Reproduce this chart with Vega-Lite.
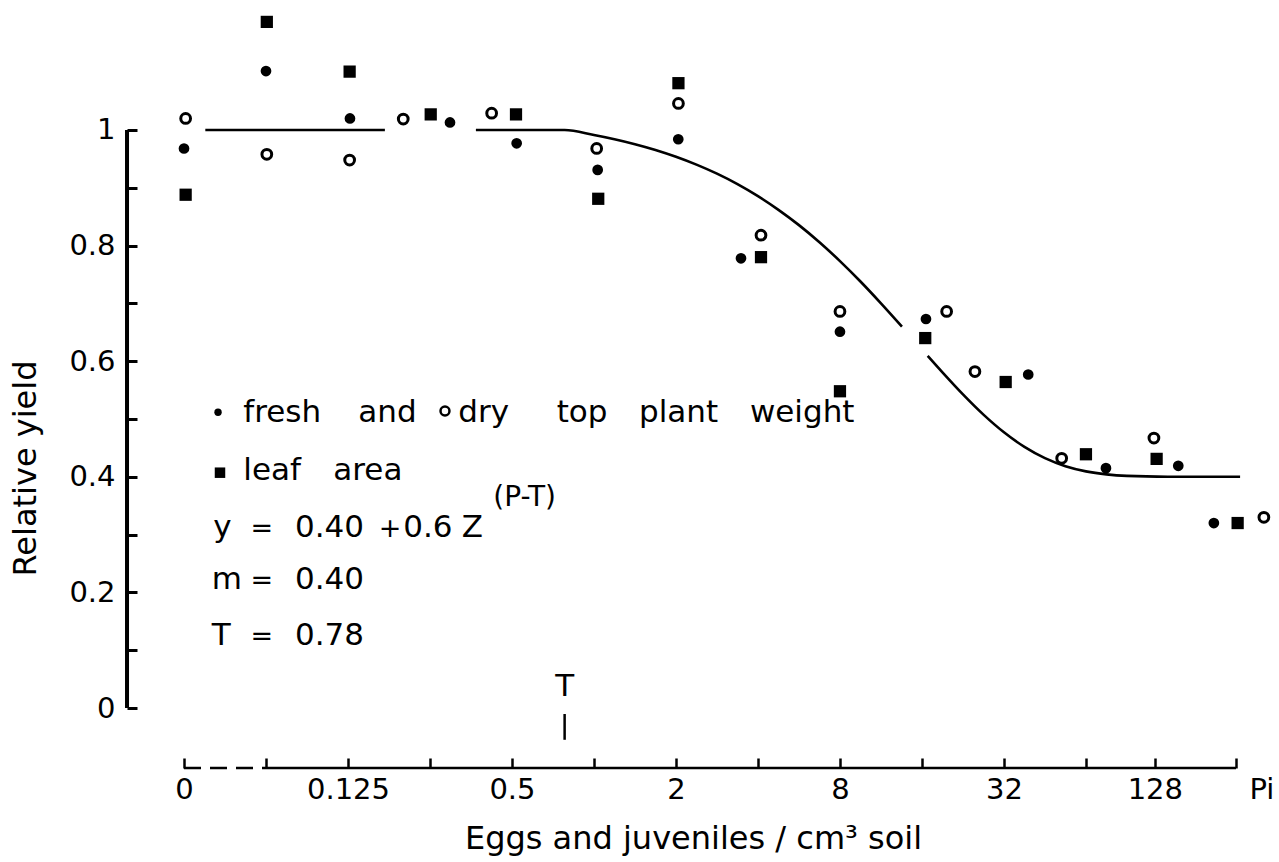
{
  "$schema": "https://vega.github.io/schema/vega-lite/v6.json",
  "width": 1052,
  "height": 768,
  "autosize": {"type": "none"},
  "padding": {"left": 184, "top": 0, "right": 43, "bottom": 94},
  "background": "white",
  "config": {"view": {"stroke": null}, "font": "DejaVu Sans", "text": {"color": "black"}},
  "datasets": {
    "points": [
      {"pos": -5.0, "yield": 0.968, "measure": "fresh"},
      {"pos": -4.0, "yield": 1.102, "measure": "fresh"},
      {"pos": -2.976, "yield": 1.02, "measure": "fresh"},
      {"pos": -1.756, "yield": 1.013, "measure": "fresh"},
      {"pos": -0.943, "yield": 0.977, "measure": "fresh"},
      {"pos": 0.045, "yield": 0.931, "measure": "fresh"},
      {"pos": 1.028, "yield": 0.984, "measure": "fresh"},
      {"pos": 1.793, "yield": 0.778, "measure": "fresh"},
      {"pos": 3.0, "yield": 0.651, "measure": "fresh"},
      {"pos": 4.049, "yield": 0.673, "measure": "fresh"},
      {"pos": 5.296, "yield": 0.577, "measure": "fresh"},
      {"pos": 6.244, "yield": 0.415, "measure": "fresh"},
      {"pos": 7.126, "yield": 0.419, "measure": "fresh"},
      {"pos": 7.56, "yield": 0.32, "measure": "fresh"},
      {"pos": -4.98, "yield": 1.02, "measure": "dry"},
      {"pos": -3.99, "yield": 0.958, "measure": "dry"},
      {"pos": -2.98, "yield": 0.948, "measure": "dry"},
      {"pos": -2.326, "yield": 1.019, "measure": "dry"},
      {"pos": -1.248, "yield": 1.029, "measure": "dry"},
      {"pos": 0.033, "yield": 0.968, "measure": "dry"},
      {"pos": 1.03, "yield": 1.046, "measure": "dry"},
      {"pos": 2.037, "yield": 0.818, "measure": "dry"},
      {"pos": 3.0, "yield": 0.686, "measure": "dry"},
      {"pos": 4.301, "yield": 0.686, "measure": "dry"},
      {"pos": 4.646, "yield": 0.582, "measure": "dry"},
      {"pos": 5.704, "yield": 0.432, "measure": "dry"},
      {"pos": 6.829, "yield": 0.467, "measure": "dry"},
      {"pos": 8.17, "yield": 0.33, "measure": "dry"},
      {"pos": -4.98, "yield": 0.888, "measure": "leaf"},
      {"pos": -3.99, "yield": 1.187, "measure": "leaf"},
      {"pos": -2.98, "yield": 1.101, "measure": "leaf"},
      {"pos": -1.991, "yield": 1.027, "measure": "leaf"},
      {"pos": -0.951, "yield": 1.027, "measure": "leaf"},
      {"pos": 0.052, "yield": 0.881, "measure": "leaf"},
      {"pos": 1.03, "yield": 1.081, "measure": "leaf"},
      {"pos": 2.037, "yield": 0.78, "measure": "leaf"},
      {"pos": 3.0, "yield": 0.548, "measure": "leaf"},
      {"pos": 4.04, "yield": 0.64, "measure": "leaf"},
      {"pos": 5.021, "yield": 0.564, "measure": "leaf"},
      {"pos": 6.0, "yield": 0.439, "measure": "leaf"},
      {"pos": 6.862, "yield": 0.431, "measure": "leaf"},
      {"pos": 7.85, "yield": 0.32, "measure": "leaf"}
    ],
    "curve": [
      {"pos": -4.74, "yield": 1.0, "seg": "A"},
      {"pos": -2.55, "yield": 1.0, "seg": "A"},
      {"pos": -1.44, "yield": 1.0, "seg": "B"},
      {"pos": -0.358, "yield": 1.0, "seg": "B"},
      {"pos": 0.0, "yield": 0.9914, "seg": "B"},
      {"pos": 0.25, "yield": 0.9841, "seg": "B"},
      {"pos": 0.5, "yield": 0.9755, "seg": "B"},
      {"pos": 0.75, "yield": 0.9655, "seg": "B"},
      {"pos": 1.0, "yield": 0.9537, "seg": "B"},
      {"pos": 1.25, "yield": 0.9401, "seg": "B"},
      {"pos": 1.5, "yield": 0.9244, "seg": "B"},
      {"pos": 1.75, "yield": 0.9063, "seg": "B"},
      {"pos": 2.0, "yield": 0.8855, "seg": "B"},
      {"pos": 2.25, "yield": 0.8619, "seg": "B"},
      {"pos": 2.5, "yield": 0.8354, "seg": "B"},
      {"pos": 2.75, "yield": 0.8058, "seg": "B"},
      {"pos": 3.0, "yield": 0.7732, "seg": "B"},
      {"pos": 3.25, "yield": 0.7379, "seg": "B"},
      {"pos": 3.5, "yield": 0.7001, "seg": "B"},
      {"pos": 3.756, "yield": 0.6598, "seg": "B"},
      {"pos": 4.07, "yield": 0.6092, "seg": "C"},
      {"pos": 4.25, "yield": 0.5807, "seg": "C"},
      {"pos": 4.5, "yield": 0.5426, "seg": "C"},
      {"pos": 4.75, "yield": 0.5076, "seg": "C"},
      {"pos": 5.0, "yield": 0.477, "seg": "C"},
      {"pos": 5.25, "yield": 0.4517, "seg": "C"},
      {"pos": 5.5, "yield": 0.4322, "seg": "C"},
      {"pos": 5.75, "yield": 0.4183, "seg": "C"},
      {"pos": 6.0, "yield": 0.4094, "seg": "C"},
      {"pos": 6.25, "yield": 0.4042, "seg": "C"},
      {"pos": 6.5, "yield": 0.4016, "seg": "C"},
      {"pos": 7.0, "yield": 0.4002, "seg": "C"},
      {"pos": 7.88, "yield": 0.4, "seg": "C"}
    ],
    "words": [
      {"pos": -4.277, "yield": 0.4953, "t": "fresh"},
      {"pos": -2.874, "yield": 0.4953, "t": "and"},
      {"pos": -1.655, "yield": 0.4953, "t": "dry"},
      {"pos": -0.455, "yield": 0.4953, "t": "top"},
      {"pos": 0.549, "yield": 0.4953, "t": "plant"},
      {"pos": 1.902, "yield": 0.4953, "t": "weight"},
      {"pos": -4.277, "yield": 0.3945, "t": "leaf"},
      {"pos": -3.179, "yield": 0.3945, "t": "area"},
      {"pos": -4.643, "yield": 0.2964, "t": "y"},
      {"pos": -3.646, "yield": 0.2964, "t": "0.40"},
      {"pos": -2.326, "yield": 0.2964, "t": "0.6"},
      {"pos": -1.613, "yield": 0.2964, "t": "Z"},
      {"pos": -4.662, "yield": 0.2059, "t": "m"},
      {"pos": -3.646, "yield": 0.2059, "t": "0.40"},
      {"pos": -4.662, "yield": 0.109, "t": "T"},
      {"pos": -3.646, "yield": 0.109, "t": "0.78"}
    ],
    "ops": [
      {"pos": -4.052, "yield": 0.2964, "t": "="},
      {"pos": -2.488, "yield": 0.2964, "t": "+"},
      {"pos": -4.052, "yield": 0.2059, "t": "="},
      {"pos": -4.052, "yield": 0.109, "t": "="}
    ]
  },
  "layer": [
    {
      "data": {"name": "curve"},
      "mark": {"type": "line", "color": "black", "strokeWidth": 2.6, "interpolate": "monotone"},
      "encoding": {
        "x": {"field": "pos", "type": "quantitative", "scale": {"domain": [-5, 7.83], "nice": false, "zero": false},
          "title": "Eggs and juveniles / cm³ soil",
          "axis": {
            "values": [-5, -4, -3, -2, -1, 0, 1, 2, 3, 4, 5, 6, 6.84, 7.83],
            "labelExpr": "datum.value == -5 ? '0' : datum.value == -3 ? '0.125' : datum.value == -1 ? '0.5' : datum.value == 1 ? '2' : datum.value == 3 ? '8' : datum.value == 5 ? '32' : datum.value == 6.84 ? '128' : ''",
            "domain": false, "grid": false,
            "tickSize": -10, "tickWidth": 2.5, "tickColor": "black",
            "labelFont": "DejaVu Sans", "labelFontSize": 29, "labelColor": "black", "labelPadding": 17,
            "labelFlush": false, "labelOverlap": false, "labelBound": false,
            "titleFont": "DejaVu Sans", "titleFontSize": 32, "titleFontWeight": "normal", "titleColor": "black",
            "titleX": 509, "titleY": 80, "titleBaseline": "alphabetic", "titleAlign": "center"
          }},
        "y": {"field": "yield", "type": "quantitative", "scale": {"domain": [-0.1038, 1.2249], "nice": false, "zero": false},
          "title": "Relative yield",
          "axis": {
            "values": [0, 0.1, 0.2, 0.3, 0.4, 0.5, 0.6, 0.7, 0.8, 0.9, 1],
            "labelExpr": "round(datum.value*10) % 2 == 0 ? format(datum.value, '.1~f') : ''",
            "domain": false, "grid": false, "offset": 57,
            "tickSize": -10, "tickWidth": 3, "tickColor": "black",
            "labelFont": "DejaVu Sans", "labelFontSize": 29, "labelColor": "black", "labelPadding": 22,
            "labelFlush": false, "labelOverlap": false, "labelBound": false,
            "titleFont": "DejaVu Sans", "titleFontSize": 32, "titleFontWeight": "normal", "titleColor": "black",
            "titleX": -102, "titleY": 468, "titleAngle": -90, "titleAlign": "center", "titleBaseline": "middle"
          }},
        "detail": {"field": "seg"}
      }
    },
    {
      "data": {"values": [{"pos": -5, "pos2": -4, "yield": -0.1038}]},
      "mark": {"type": "rule", "color": "black", "strokeWidth": 2.7, "strokeDash": [17, 9]},
      "encoding": {"x": {"field": "pos", "type": "quantitative"}, "x2": {"field": "pos2"}, "y": {"field": "yield", "type": "quantitative"}}
    },
    {
      "data": {"values": [{"pos": -4, "pos2": 7.83, "yield": -0.1038}]},
      "mark": {"type": "rule", "color": "black", "strokeWidth": 2.7},
      "encoding": {"x": {"field": "pos", "type": "quantitative"}, "x2": {"field": "pos2"}, "y": {"field": "yield", "type": "quantitative"}}
    },
    {
      "data": {"values": [{"pos": -5.695, "yield": 0, "yield2": 1}]},
      "mark": {"type": "rule", "color": "black", "strokeWidth": 4},
      "encoding": {"x": {"field": "pos", "type": "quantitative"}, "y": {"field": "yield", "type": "quantitative"}, "y2": {"field": "yield2"}}
    },
    {
      "data": {"values": [{"pos": -0.358, "yield": -0.0104, "yield2": -0.055}]},
      "mark": {"type": "rule", "color": "black", "strokeWidth": 2.5},
      "encoding": {"x": {"field": "pos", "type": "quantitative"}, "y": {"field": "yield", "type": "quantitative"}, "y2": {"field": "yield2"}}
    },
    {
      "data": {"values": [{"pos": -0.358, "yield": 0.0208, "t": "T"}]},
      "mark": {"type": "text", "font": "DejaVu Sans", "fontSize": 31, "align": "center", "baseline": "alphabetic", "color": "black"},
      "encoding": {"x": {"field": "pos", "type": "quantitative"}, "y": {"field": "yield", "type": "quantitative"}, "text": {"field": "t"}}
    },
    {
      "data": {"values": [{"pos": 8.146, "yield": -0.1419, "t": "Pi"}]},
      "mark": {"type": "text", "font": "DejaVu Sans", "fontSize": 29, "align": "center", "baseline": "middle", "color": "black"},
      "encoding": {"x": {"field": "pos", "type": "quantitative"}, "y": {"field": "yield", "type": "quantitative"}, "text": {"field": "t"}}
    },
    {
      "data": {"name": "points"},
      "transform": [{"filter": "datum.measure == 'fresh'"}],
      "mark": {"type": "point", "shape": "circle", "filled": true, "color": "black", "size": 115, "opacity": 1},
      "encoding": {"x": {"field": "pos", "type": "quantitative"}, "y": {"field": "yield", "type": "quantitative"}}
    },
    {
      "data": {"name": "points"},
      "transform": [{"filter": "datum.measure == 'dry'"}],
      "mark": {"type": "point", "shape": "circle", "filled": false, "color": "black", "fill": "white", "strokeWidth": 3, "size": 95, "opacity": 1},
      "encoding": {"x": {"field": "pos", "type": "quantitative"}, "y": {"field": "yield", "type": "quantitative"}}
    },
    {
      "data": {"name": "points"},
      "transform": [{"filter": "datum.measure == 'leaf'"}],
      "mark": {"type": "point", "shape": "square", "filled": true, "color": "black", "size": 150, "opacity": 1},
      "encoding": {"x": {"field": "pos", "type": "quantitative"}, "y": {"field": "yield", "type": "quantitative"}}
    },
    {
      "data": {"values": [{"pos": -4.585, "yield": 0.5116}]},
      "mark": {"type": "point", "shape": "circle", "filled": true, "color": "black", "size": 55, "opacity": 1},
      "encoding": {"x": {"field": "pos", "type": "quantitative"}, "y": {"field": "yield", "type": "quantitative"}}
    },
    {
      "data": {"values": [{"pos": -1.817, "yield": 0.5138}]},
      "mark": {"type": "point", "shape": "circle", "filled": false, "color": "black", "strokeWidth": 2.5, "size": 80, "opacity": 1},
      "encoding": {"x": {"field": "pos", "type": "quantitative"}, "y": {"field": "yield", "type": "quantitative"}}
    },
    {
      "data": {"values": [{"pos": -4.561, "yield": 0.4071}]},
      "mark": {"type": "point", "shape": "square", "filled": true, "color": "black", "size": 110, "opacity": 1},
      "encoding": {"x": {"field": "pos", "type": "quantitative"}, "y": {"field": "yield", "type": "quantitative"}}
    },
    {
      "data": {"name": "words"},
      "mark": {"type": "text", "font": "DejaVu Sans", "fontSize": 31, "align": "left", "baseline": "alphabetic", "color": "black"},
      "encoding": {"x": {"field": "pos", "type": "quantitative"}, "y": {"field": "yield", "type": "quantitative"}, "text": {"field": "t"}}
    },
    {
      "data": {"name": "ops"},
      "mark": {"type": "text", "font": "DejaVu Sans", "fontSize": 27, "align": "center", "baseline": "alphabetic", "color": "black"},
      "encoding": {"x": {"field": "pos", "type": "quantitative"}, "y": {"field": "yield", "type": "quantitative"}, "text": {"field": "t"}}
    },
    {
      "data": {"values": [{"pos": -1.228, "yield": 0.3495, "t": "(P-T)"}]},
      "mark": {"type": "text", "font": "DejaVu Sans", "fontSize": 28, "align": "left", "baseline": "alphabetic", "color": "black"},
      "encoding": {"x": {"field": "pos", "type": "quantitative"}, "y": {"field": "yield", "type": "quantitative"}, "text": {"field": "t"}}
    }
  ]
}
